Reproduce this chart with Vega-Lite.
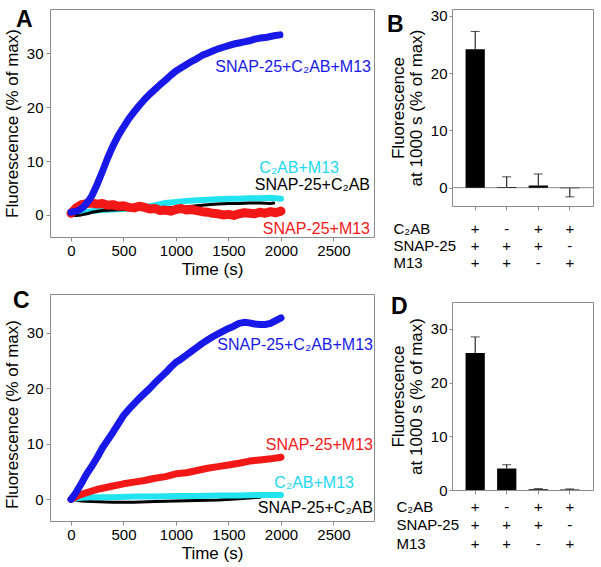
{
  "$schema": "https://vega.github.io/schema/vega-lite/v6.json",
  "padding": {"left": 2, "top": 8, "right": 2, "bottom": 2},
  "config": {
    "font": "Liberation Sans",
    "view": {"stroke": "#8c8c8c", "strokeWidth": 1},
    "axis": {"domain": false, "grid": false, "tickColor": "#8c8c8c", "tickSize": 4, "labelPadding": 3, "labelFontSize": 15, "labelColor": "#000000", "titleFontSize": 17, "titleFontWeight": "normal", "titleColor": "#000000", "titlePadding": 5},
    "title": {"fontSize": 23, "fontWeight": "bold", "anchor": "start", "frame": "group", "color": "#000000", "baseline": "alphabetic"}
  },
  "datasets": {
    "A": [
      {"s":"b","t":0,"f":0.5},{"s":"b","t":25,"f":0.6},{"s":"b","t":50,"f":0.7},{"s":"b","t":75,"f":0.9},{"s":"b","t":100,"f":1.2},{"s":"b","t":125,"f":1.6},{"s":"b","t":150,"f":2.2},{"s":"b","t":175,"f":2.8},{"s":"b","t":200,"f":3.6},{"s":"b","t":250,"f":5.7},{"s":"b","t":300,"f":8.1},{"s":"b","t":350,"f":10.6},{"s":"b","t":400,"f":12.8},{"s":"b","t":450,"f":14.7},{"s":"b","t":500,"f":16.3},{"s":"b","t":550,"f":17.8},{"s":"b","t":600,"f":19.1},{"s":"b","t":650,"f":20.3},{"s":"b","t":700,"f":21.4},{"s":"b","t":750,"f":22.4},{"s":"b","t":800,"f":23.3},{"s":"b","t":850,"f":24.2},{"s":"b","t":900,"f":25.0},{"s":"b","t":950,"f":25.9},{"s":"b","t":1000,"f":26.7},{"s":"b","t":1050,"f":27.3},{"s":"b","t":1100,"f":27.9},{"s":"b","t":1150,"f":28.5},{"s":"b","t":1200,"f":29.0},{"s":"b","t":1250,"f":29.6},{"s":"b","t":1300,"f":30.0},{"s":"b","t":1350,"f":30.4},{"s":"b","t":1400,"f":30.8},{"s":"b","t":1450,"f":31.1},{"s":"b","t":1500,"f":31.4},{"s":"b","t":1550,"f":31.7},{"s":"b","t":1600,"f":31.9},{"s":"b","t":1650,"f":32.1},{"s":"b","t":1700,"f":32.3},{"s":"b","t":1750,"f":32.6},{"s":"b","t":1800,"f":32.8},{"s":"b","t":1850,"f":32.9},{"s":"b","t":1900,"f":33.1},{"s":"b","t":1950,"f":33.3},{"s":"b","t":1990,"f":33.4},
      {"s":"c","t":0,"f":0.3},{"s":"c","t":50,"f":0.3},{"s":"c","t":100,"f":0.4},{"s":"c","t":200,"f":0.7},{"s":"c","t":300,"f":0.9},{"s":"c","t":400,"f":1.0},{"s":"c","t":500,"f":1.1},{"s":"c","t":600,"f":1.2},{"s":"c","t":700,"f":1.4},{"s":"c","t":800,"f":1.8},{"s":"c","t":900,"f":2.2},{"s":"c","t":1000,"f":2.4},{"s":"c","t":1100,"f":2.6},{"s":"c","t":1200,"f":2.7},{"s":"c","t":1300,"f":2.8},{"s":"c","t":1400,"f":2.9},{"s":"c","t":1500,"f":3.0},{"s":"c","t":1600,"f":3.0},{"s":"c","t":1700,"f":3.1},{"s":"c","t":1800,"f":3.1},{"s":"c","t":1900,"f":3.2},{"s":"c","t":2000,"f":3.0},
      {"s":"k","t":0,"f":0.0},{"s":"k","t":50,"f":-0.1},{"s":"k","t":100,"f":0.0},{"s":"k","t":150,"f":0.2},{"s":"k","t":200,"f":0.5},{"s":"k","t":300,"f":0.8},{"s":"k","t":400,"f":0.9},{"s":"k","t":500,"f":1.0},{"s":"k","t":600,"f":1.0},{"s":"k","t":700,"f":1.1},{"s":"k","t":800,"f":1.2},{"s":"k","t":900,"f":1.3},{"s":"k","t":1000,"f":1.4},{"s":"k","t":1100,"f":1.5},{"s":"k","t":1200,"f":1.7},{"s":"k","t":1300,"f":1.9},{"s":"k","t":1400,"f":2.0},{"s":"k","t":1500,"f":2.1},{"s":"k","t":1600,"f":2.1},{"s":"k","t":1700,"f":2.2},{"s":"k","t":1800,"f":2.2},{"s":"k","t":1900,"f":2.1},{"s":"k","t":1930,"f":2.2},
      {"s":"r","t":0,"f":0.3},{"s":"r","t":25,"f":0.8},{"s":"r","t":50,"f":1.3},{"s":"r","t":100,"f":1.9},{"s":"r","t":150,"f":2.1},{"s":"r","t":200,"f":2.2},{"s":"r","t":250,"f":2.0},{"s":"r","t":300,"f":2.1},{"s":"r","t":350,"f":1.8},{"s":"r","t":400,"f":1.9},{"s":"r","t":450,"f":1.6},{"s":"r","t":500,"f":1.7},{"s":"r","t":550,"f":1.4},{"s":"r","t":600,"f":1.3},{"s":"r","t":650,"f":1.6},{"s":"r","t":700,"f":1.4},{"s":"r","t":750,"f":1.1},{"s":"r","t":800,"f":1.2},{"s":"r","t":850,"f":0.8},{"s":"r","t":900,"f":0.9},{"s":"r","t":950,"f":0.7},{"s":"r","t":1000,"f":1.0},{"s":"r","t":1050,"f":1.2},{"s":"r","t":1100,"f":0.9},{"s":"r","t":1150,"f":1.0},{"s":"r","t":1200,"f":0.8},{"s":"r","t":1250,"f":0.6},{"s":"r","t":1300,"f":0.5},{"s":"r","t":1350,"f":0.3},{"s":"r","t":1400,"f":0.2},{"s":"r","t":1450,"f":0.0},{"s":"r","t":1500,"f":0.1},{"s":"r","t":1550,"f":-0.1},{"s":"r","t":1600,"f":0.2},{"s":"r","t":1650,"f":0.4},{"s":"r","t":1700,"f":0.3},{"s":"r","t":1750,"f":0.2},{"s":"r","t":1800,"f":0.5},{"s":"r","t":1850,"f":0.3},{"s":"r","t":1900,"f":0.6},{"s":"r","t":1950,"f":0.4},{"s":"r","t":2000,"f":0.7}
    ],
    "C": [
      {"s":"b","t":0,"f":0.0},{"s":"b","t":25,"f":0.6},{"s":"b","t":50,"f":1.3},{"s":"b","t":100,"f":2.9},{"s":"b","t":150,"f":4.6},{"s":"b","t":200,"f":6.0},{"s":"b","t":250,"f":7.6},{"s":"b","t":300,"f":9.3},{"s":"b","t":350,"f":10.7},{"s":"b","t":400,"f":12.1},{"s":"b","t":450,"f":13.6},{"s":"b","t":500,"f":15.1},{"s":"b","t":550,"f":16.2},{"s":"b","t":600,"f":17.2},{"s":"b","t":650,"f":18.2},{"s":"b","t":700,"f":19.1},{"s":"b","t":750,"f":20.0},{"s":"b","t":800,"f":21.0},{"s":"b","t":850,"f":21.9},{"s":"b","t":900,"f":22.8},{"s":"b","t":950,"f":23.8},{"s":"b","t":1000,"f":24.7},{"s":"b","t":1050,"f":25.3},{"s":"b","t":1100,"f":26.0},{"s":"b","t":1150,"f":26.7},{"s":"b","t":1200,"f":27.4},{"s":"b","t":1250,"f":28.1},{"s":"b","t":1300,"f":28.7},{"s":"b","t":1350,"f":29.3},{"s":"b","t":1400,"f":29.8},{"s":"b","t":1450,"f":30.3},{"s":"b","t":1500,"f":30.8},{"s":"b","t":1550,"f":31.2},{"s":"b","t":1600,"f":31.7},{"s":"b","t":1650,"f":31.9},{"s":"b","t":1700,"f":31.8},{"s":"b","t":1750,"f":31.6},{"s":"b","t":1800,"f":31.5},{"s":"b","t":1850,"f":31.5},{"s":"b","t":1900,"f":31.7},{"s":"b","t":1950,"f":32.2},{"s":"b","t":2000,"f":32.7},
      {"s":"k","t":0,"f":0.0},{"s":"k","t":100,"f":-0.3},{"s":"k","t":200,"f":-0.4},{"s":"k","t":400,"f":-0.5},{"s":"k","t":600,"f":-0.5},{"s":"k","t":800,"f":-0.4},{"s":"k","t":1000,"f":-0.3},{"s":"k","t":1200,"f":-0.2},{"s":"k","t":1400,"f":-0.1},{"s":"k","t":1600,"f":0.1},{"s":"k","t":1800,"f":0.4},{"s":"k","t":1930,"f":0.9},
      {"s":"c","t":0,"f":0.0},{"s":"c","t":50,"f":0.2},{"s":"c","t":100,"f":0.3},{"s":"c","t":200,"f":0.4},{"s":"c","t":400,"f":0.4},{"s":"c","t":600,"f":0.5},{"s":"c","t":800,"f":0.5},{"s":"c","t":1000,"f":0.6},{"s":"c","t":1200,"f":0.6},{"s":"c","t":1400,"f":0.7},{"s":"c","t":1600,"f":0.7},{"s":"c","t":1800,"f":0.8},{"s":"c","t":2000,"f":0.8},
      {"s":"r","t":0,"f":0.0},{"s":"r","t":50,"f":0.5},{"s":"r","t":100,"f":0.9},{"s":"r","t":150,"f":1.2},{"s":"r","t":200,"f":1.5},{"s":"r","t":250,"f":1.8},{"s":"r","t":300,"f":2.0},{"s":"r","t":400,"f":2.4},{"s":"r","t":500,"f":2.8},{"s":"r","t":600,"f":3.1},{"s":"r","t":700,"f":3.4},{"s":"r","t":800,"f":3.8},{"s":"r","t":900,"f":4.1},{"s":"r","t":1000,"f":4.6},{"s":"r","t":1100,"f":4.8},{"s":"r","t":1200,"f":5.2},{"s":"r","t":1300,"f":5.6},{"s":"r","t":1400,"f":5.9},{"s":"r","t":1500,"f":6.2},{"s":"r","t":1600,"f":6.5},{"s":"r","t":1700,"f":6.9},{"s":"r","t":1800,"f":7.1},{"s":"r","t":1900,"f":7.3},{"s":"r","t":2000,"f":7.6}
    ],
    "B": [
      {"cond":"+/+/+","v":24.2,"e":27.3},
      {"cond":"-/+/+","v":0.1,"e":1.9},
      {"cond":"+/+/-","v":0.4,"e":2.4},
      {"cond":"+/-/+","v":-0.1,"e":-1.6}
    ],
    "D": [
      {"cond":"+/+/+","v":25.5,"e":28.5},
      {"cond":"-/+/+","v":4.0,"e":4.7},
      {"cond":"+/+/-","v":0.15,"e":0.25},
      {"cond":"+/-/+","v":0.1,"e":0.2}
    ]
  },
  "spacing": 11,
  "hconcat": [
    {
      "spacing": 11,
      "vconcat": [
        {
          "width": 324, "height": 228,
          "encoding": {
            "x": {"field": "t", "type": "quantitative", "scale": {"domain": [-200, 2886], "nice": false, "zero": false}, "axis": {"values": [0, 500, 1000, 1500, 2000, 2500], "format": "d", "title": "Time (s)", "titlePadding": 3, "labelPadding": 2}},
            "y": {"field": "f", "type": "quantitative", "scale": {"domain": [-4.1, 38.2], "nice": false, "zero": false}, "axis": {"values": [0, 10, 20, 30], "title": "Fluorescence (% of max)"}}
          },
          "layer": [
            {"data": {"name": "A"}, "transform": [{"filter": "datum.s == 'c'"}], "mark": {"type": "line", "color": "#22e4f0", "strokeWidth": 6, "strokeCap": "round", "strokeJoin": "round"}},
            {"data": {"name": "A"}, "transform": [{"filter": "datum.s == 'k'"}], "mark": {"type": "line", "color": "#000000", "strokeWidth": 3, "strokeCap": "round", "strokeJoin": "round"}},
            {"data": {"name": "A"}, "transform": [{"filter": "datum.s == 'r'"}], "mark": {"type": "line", "color": "#f21818", "strokeWidth": 9, "strokeCap": "round", "strokeJoin": "round"}},
            {"data": {"name": "A"}, "transform": [{"filter": "datum.s == 'b'"}], "mark": {"type": "line", "color": "#1818e8", "strokeWidth": 7, "strokeCap": "round", "strokeJoin": "round"}},
            {"data": {"name": "A"}, "transform": [{"filter": "datum.s == 'b' && datum.t == 0"}], "mark": {"type": "text", "color": "#1818e8", "align": "right", "baseline": "middle", "fontSize": 16}, "encoding": {"text": {"value": "SNAP-25+C₂AB+M13"}, "x": {"datum": 2857, "type": "quantitative"}, "y": {"datum": 27.5, "type": "quantitative"}}},
            {"data": {"name": "A"}, "transform": [{"filter": "datum.s == 'c' && datum.t == 0"}], "mark": {"type": "text", "color": "#22d8f0", "align": "right", "baseline": "middle", "fontSize": 16}, "encoding": {"text": {"value": "C₂AB+M13"}, "x": {"datum": 2552, "type": "quantitative"}, "y": {"datum": 8.7, "type": "quantitative"}}},
            {"data": {"name": "A"}, "transform": [{"filter": "datum.s == 'k' && datum.t == 0"}], "mark": {"type": "text", "color": "#000000", "align": "right", "baseline": "middle", "fontSize": 16}, "encoding": {"text": {"value": "SNAP-25+C₂AB"}, "x": {"datum": 2848, "type": "quantitative"}, "y": {"datum": 5.6, "type": "quantitative"}}},
            {"data": {"name": "A"}, "transform": [{"filter": "datum.s == 'r' && datum.t == 0"}], "mark": {"type": "text", "color": "#f21818", "align": "right", "baseline": "middle", "fontSize": 16}, "encoding": {"text": {"value": "SNAP-25+M13"}, "x": {"datum": 2848, "type": "quantitative"}, "y": {"datum": -2.6, "type": "quantitative"}}},
            {"data": {"name": "A"}, "transform": [{"filter": "datum.s == 'b' && datum.t == 0"}], "mark": {"type": "text", "color": "#000000", "align": "left", "baseline": "top", "fontSize": 23, "fontWeight": "bold"}, "encoding": {"text": {"value": "A"}, "x": {"datum": -525, "type": "quantitative"}, "y": {"datum": 38.2, "type": "quantitative"}}}
          ]
        },
        {
          "width": 324, "height": 227,
          "encoding": {
            "x": {"field": "t", "type": "quantitative", "scale": {"domain": [-200, 2886], "nice": false, "zero": false}, "axis": {"values": [0, 500, 1000, 1500, 2000, 2500], "format": "d", "title": "Time (s)", "titlePadding": 3, "labelPadding": 2}},
            "y": {"field": "f", "type": "quantitative", "scale": {"domain": [-3.9, 37.0], "nice": false, "zero": false}, "axis": {"values": [0, 10, 20, 30], "title": "Fluorescence (% of max)", "titleY": 120}}
          },
          "layer": [
            {"data": {"name": "C"}, "transform": [{"filter": "datum.s == 'k'"}], "mark": {"type": "line", "color": "#000000", "strokeWidth": 3, "strokeCap": "round", "strokeJoin": "round"}},
            {"data": {"name": "C"}, "transform": [{"filter": "datum.s == 'c'"}], "mark": {"type": "line", "color": "#22e4f0", "strokeWidth": 6, "strokeCap": "round", "strokeJoin": "round"}},
            {"data": {"name": "C"}, "transform": [{"filter": "datum.s == 'r'"}], "mark": {"type": "line", "color": "#f21818", "strokeWidth": 7, "strokeCap": "round", "strokeJoin": "round"}},
            {"data": {"name": "C"}, "transform": [{"filter": "datum.s == 'b'"}], "mark": {"type": "line", "color": "#1818e8", "strokeWidth": 7, "strokeCap": "round", "strokeJoin": "round"}},
            {"data": {"name": "C"}, "transform": [{"filter": "datum.s == 'b' && datum.t == 0"}], "mark": {"type": "text", "color": "#1818e8", "align": "right", "baseline": "middle", "fontSize": 16}, "encoding": {"text": {"value": "SNAP-25+C₂AB+M13"}, "x": {"datum": 2876, "type": "quantitative"}, "y": {"datum": 27.8, "type": "quantitative"}}},
            {"data": {"name": "C"}, "transform": [{"filter": "datum.s == 'r' && datum.t == 0"}], "mark": {"type": "text", "color": "#f21818", "align": "right", "baseline": "middle", "fontSize": 16}, "encoding": {"text": {"value": "SNAP-25+M13"}, "x": {"datum": 2876, "type": "quantitative"}, "y": {"datum": 9.8, "type": "quantitative"}}},
            {"data": {"name": "C"}, "transform": [{"filter": "datum.s == 'c' && datum.t == 0"}], "mark": {"type": "text", "color": "#22d8f0", "align": "right", "baseline": "middle", "fontSize": 16}, "encoding": {"text": {"value": "C₂AB+M13"}, "x": {"datum": 2695, "type": "quantitative"}, "y": {"datum": 2.9, "type": "quantitative"}}},
            {"data": {"name": "C"}, "transform": [{"filter": "datum.s == 'k' && datum.t == 0"}], "mark": {"type": "text", "color": "#000000", "align": "right", "baseline": "middle", "fontSize": 16}, "encoding": {"text": {"value": "SNAP-25+C₂AB"}, "x": {"datum": 2876, "type": "quantitative"}, "y": {"datum": -1.6, "type": "quantitative"}}},
            {"data": {"name": "C"}, "transform": [{"filter": "datum.s == 'b' && datum.t == 0"}], "mark": {"type": "text", "color": "#000000", "align": "left", "baseline": "top", "fontSize": 23, "fontWeight": "bold"}, "encoding": {"text": {"value": "C"}, "x": {"datum": -552, "type": "quantitative"}, "y": {"datum": 37.7, "type": "quantitative"}}}
          ]
        }
      ]
    },
    {
      "spacing": 24,
      "vconcat": [
        {
          "width": 141, "height": 197,
          "title": {"text": "B", "dx": -65, "offset": -28},
          "layer": [
            {"data": {"name": "B"}, "transform": [{"filter": "datum.v > 20"}], "mark": {"type": "rule", "color": "#8c8c8c", "strokeWidth": 1}, "encoding": {"y": {"datum": 0, "type": "quantitative"}}},
            {"data": {"name": "B"}, "mark": {"type": "bar", "color": "#000000"},
             "encoding": {
               "x": {"field": "cond", "type": "nominal", "sort": null, "scale": {"paddingInner": 0.39, "paddingOuter": 0.43},
                     "axis": {"labelExpr": "split(datum.value, '/')", "labelAngle": 0, "labelBaseline": "top", "labelLineHeight": 17, "labelPadding": 11, "tickSize": 4, "labelOverlap": false, "labelFontSize": 15,
                              "title": ["C₂AB", "SNAP-25", "M13"], "titleX": -59, "titleY": 15, "titleAlign": "left", "titleBaseline": "top", "titleAngle": 0, "titleFontSize": 15, "titleLineHeight": 17}},
               "y": {"field": "v", "type": "quantitative", "scale": {"domain": [-3.2, 31.22], "nice": false, "zero": false},
                     "axis": {"values": [0, 5, 10, 15, 20, 25, 30], "title": ["Fluorescence", "at 1000 s (% of max)"], "tickSize": 3, "labelPadding": 2, "titlePadding": 5, "titleLineHeight": 18}},
               "y2": {"datum": 0}
             }},
            {"data": {"name": "B"}, "mark": {"type": "rule", "color": "#000000", "strokeWidth": 1},
             "encoding": {"x": {"field": "cond", "type": "nominal", "sort": null}, "y": {"field": "v", "type": "quantitative"}, "y2": {"field": "e"}}},
            {"data": {"name": "B"}, "mark": {"type": "tick", "color": "#000000", "size": 9, "thickness": 1},
             "encoding": {"x": {"field": "cond", "type": "nominal", "sort": null}, "y": {"field": "e", "type": "quantitative"}}}
          ]
        },
        {
          "width": 141, "height": 188,
          "title": {"text": "D", "dx": -61, "offset": -17},
          "layer": [
            {"data": {"name": "D"}, "mark": {"type": "bar", "color": "#000000"},
             "encoding": {
               "x": {"field": "cond", "type": "nominal", "sort": null, "scale": {"paddingInner": 0.39, "paddingOuter": 0.43},
                     "axis": {"labelExpr": "split(datum.value, '/')", "labelAngle": 0, "labelBaseline": "top", "labelLineHeight": 18.5, "labelPadding": 5, "tickSize": 4, "labelOverlap": false, "labelFontSize": 15,
                              "title": ["C₂AB", "SNAP-25", "M13"], "titleX": -56, "titleY": 9, "titleAlign": "left", "titleBaseline": "top", "titleAngle": 0, "titleFontSize": 15, "titleLineHeight": 18.5}},
               "y": {"field": "v", "type": "quantitative", "scale": {"domain": [0, 35], "nice": false, "zero": false},
                     "axis": {"values": [0, 5, 10, 15, 20, 25, 30], "title": ["Fluorescence", "at 1000 s (% of max)"], "tickSize": 3, "labelPadding": 2, "titlePadding": 5, "titleLineHeight": 18}},
               "y2": {"datum": 0}
             }},
            {"data": {"name": "D"}, "mark": {"type": "rule", "color": "#000000", "strokeWidth": 1},
             "encoding": {"x": {"field": "cond", "type": "nominal", "sort": null}, "y": {"field": "v", "type": "quantitative"}, "y2": {"field": "e"}}},
            {"data": {"name": "D"}, "mark": {"type": "tick", "color": "#000000", "size": 9, "thickness": 1},
             "encoding": {"x": {"field": "cond", "type": "nominal", "sort": null}, "y": {"field": "e", "type": "quantitative"}}}
          ]
        }
      ]
    }
  ]
}
